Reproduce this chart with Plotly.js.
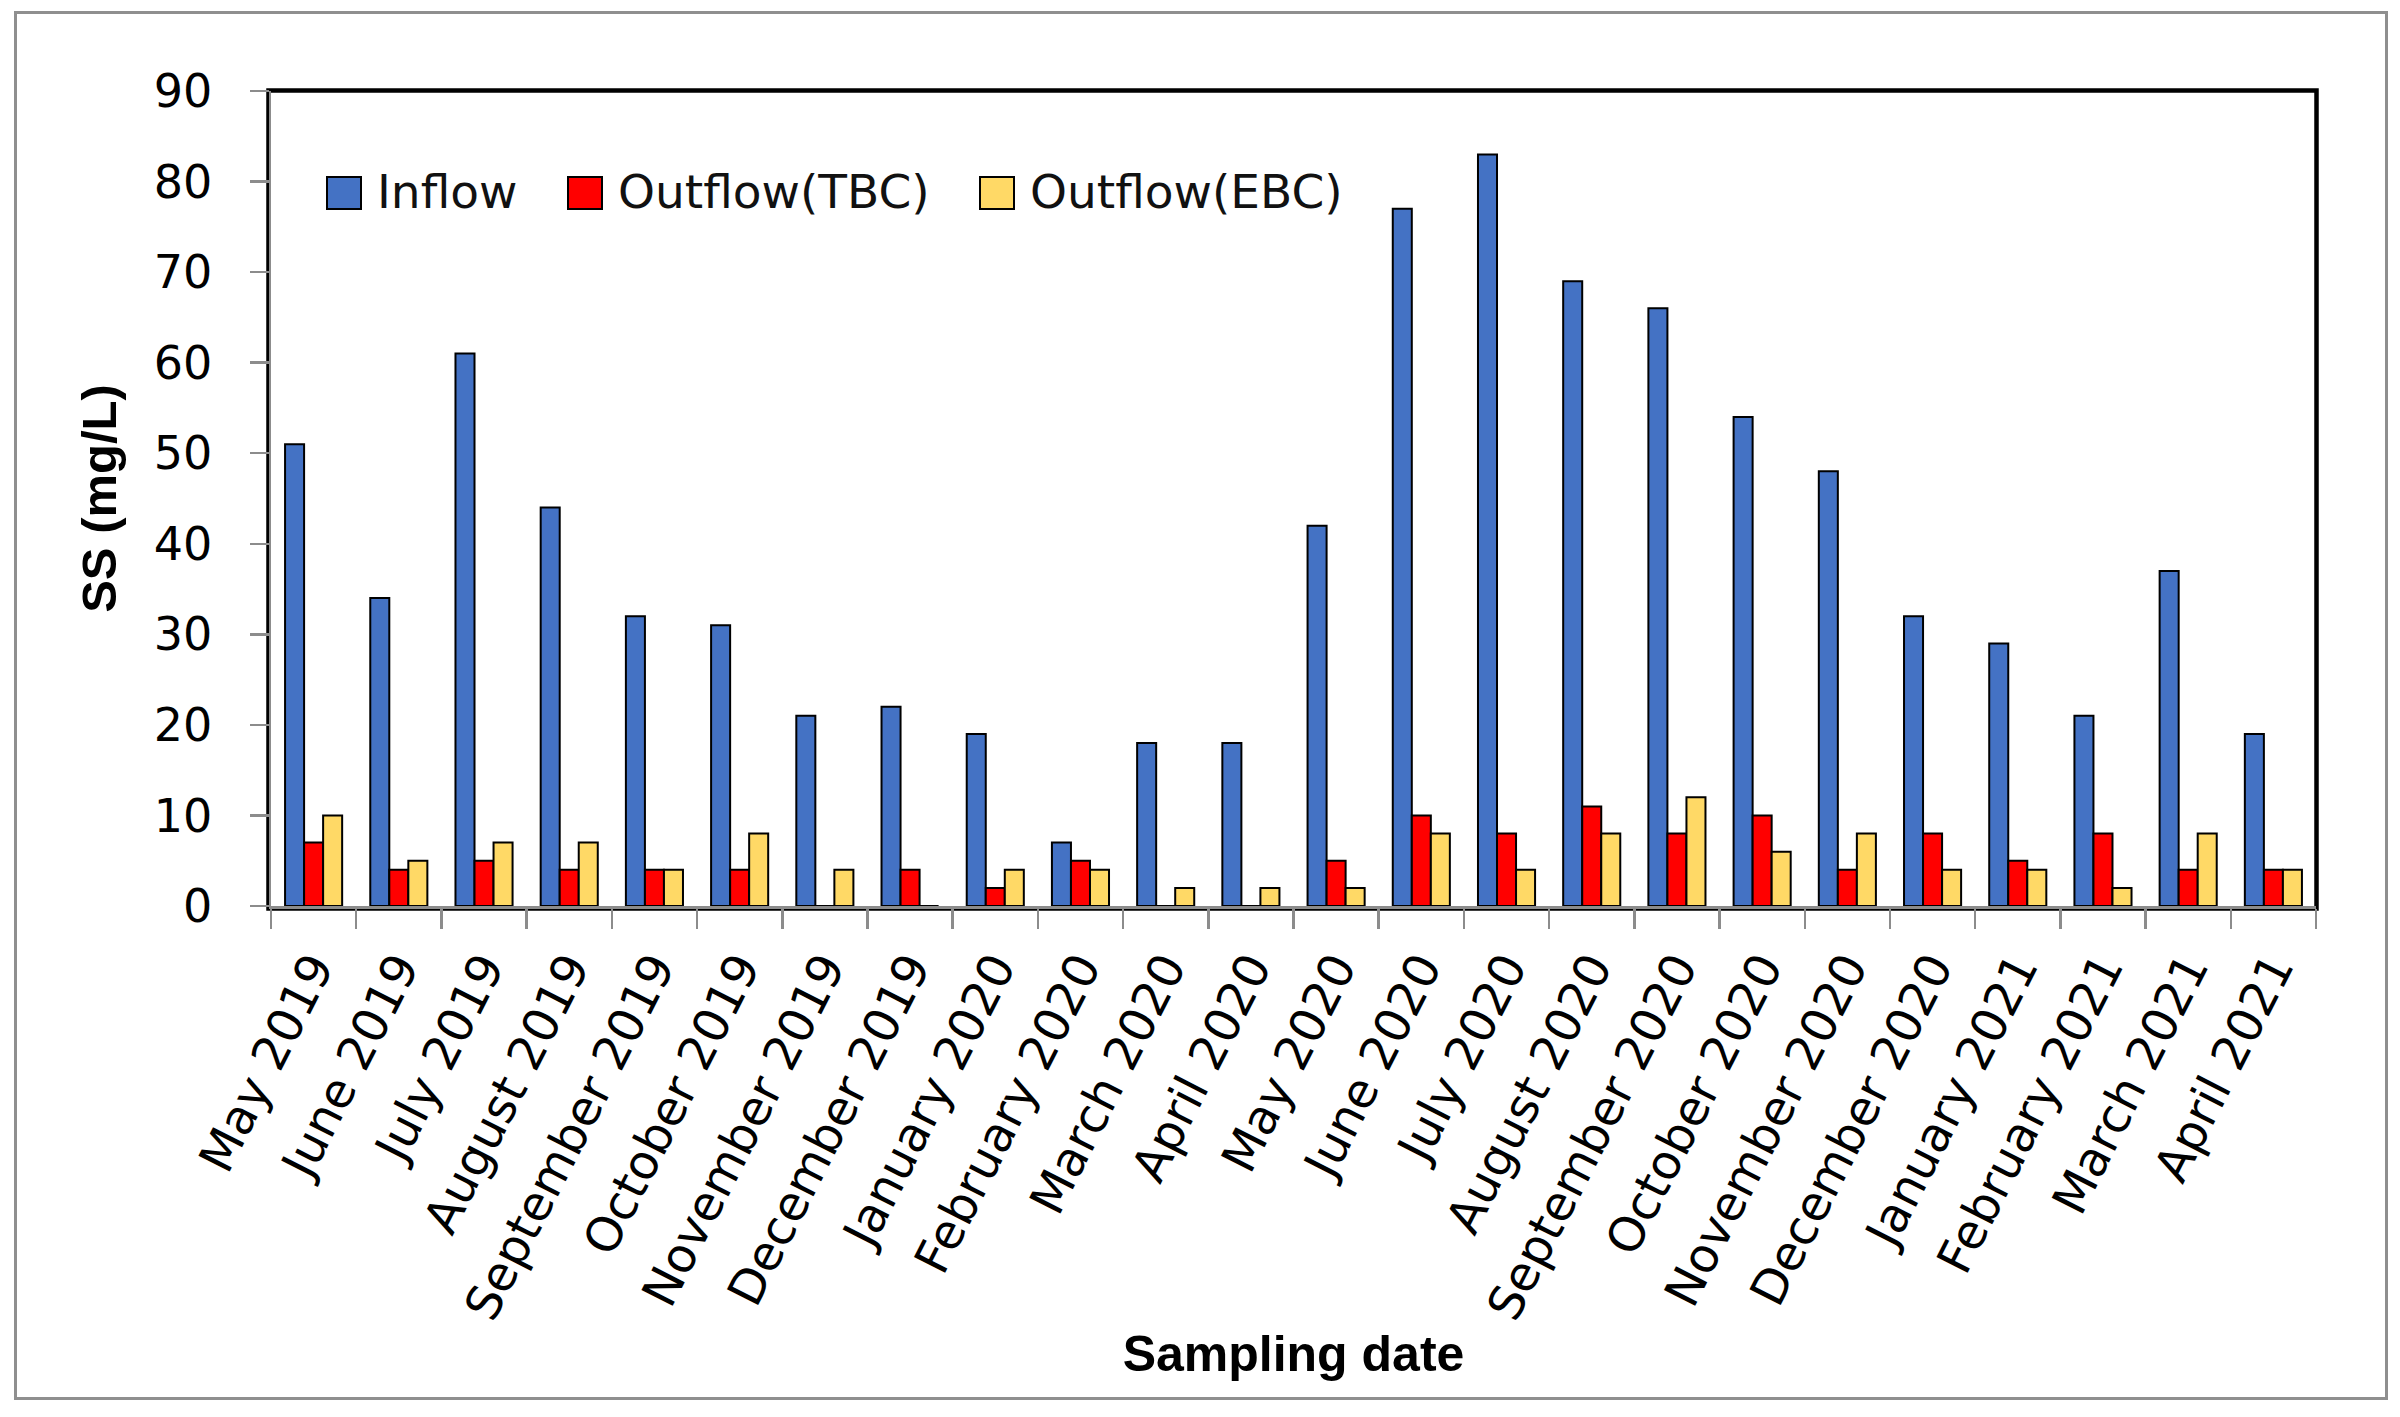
<!DOCTYPE html>
<html><head><meta charset="utf-8">
<script src="https://cdn.plot.ly/plotly-3.0.1.min.js"></script>
<style>
html,body{margin:0;padding:0;background:#fff;}
#chart{position:absolute;left:0;top:0;width:2400px;height:1417px;}
#frame{position:absolute;left:14px;top:11px;width:2368px;height:1383px;border:3px solid #8f8f8f;pointer-events:none;}
</style>
</head><body>
<div id="chart"></div><div id="frame"></div>
<script>
// ---- data ----
const months = ["May 2019","June 2019","July 2019","August 2019","September 2019","October 2019",
  "November 2019","December 2019","January 2020","February 2020","March 2020","April 2020",
  "May 2020","June 2020","July 2020","August 2020","September 2020","October 2020",
  "November 2020","December 2020","January 2021","February 2021","March 2021","April 2021"];
const inflow = [51,34,61,44,32,31,21,22,19,7,18,18,42,77,83,69,66,54,48,32,29,21,37,19];
const outflowTBC = [7,4,5,4,4,4,0,4,2,5,0,0,5,10,8,11,8,10,4,8,5,8,4,4];
const outflowEBC = [10,5,7,7,4,8,4,0,4,4,2,2,2,8,4,8,12,6,8,4,4,2,8,4];
const seriesNames = ["Inflow","Outflow(TBC)","Outflow(EBC)"];
const seriesColors = ["#4472C4","#FF0000","#FFD966"];
const yTitle = "SS (mg/L)";
const xTitle = "Sampling date";

// ---- layout geometry (px) ----
const W = 2400, H = 1417;
const L = 271, R = 2316, T = 91, B = 906;
const px = x => (x - L) / (R - L);
const py = y => (B - y) / (B - T);

const seriesData = [inflow, outflowTBC, outflowEBC];
const traces = seriesData.map((vals, i) => ({
  type: "bar",
  x: months,
  y: vals,
  name: seriesNames[i],
  marker: {color: seriesColors[i], line: {color: "#000", width: 2}},
  showlegend: false,
  hoverinfo: "x+y+name"
}));

const shapes = [{
  type: "rect", xref: "paper", yref: "paper", layer: "below",
  x0: px(268.5), x1: px(2316.5), y0: py(908.5), y1: py(90.5),
  line: {color: "#000", width: 4.5}, fillcolor: "rgba(0,0,0,0)"
}];
const annotations = [];
const legSq = [327, 568, 980];
const legTx = [375, 616, 1028];
seriesNames.forEach((n, i) => {
  shapes.push({
    type: "rect", xref: "paper", yref: "paper",
    x0: px(legSq[i]), x1: px(legSq[i] + 34), y0: py(209), y1: py(177),
    fillcolor: seriesColors[i], line: {color: "#000", width: 2}
  });
  annotations.push({
    xref: "paper", yref: "paper", x: px(legTx[i]), y: py(192),
    xanchor: "left", yanchor: "middle", showarrow: false,
    text: n, font: {family: "DejaVu Sans", size: 47, color: "#111"}
  });
});

const layout = {
  width: W, height: H,
  margin: {l: L, r: W - R, t: T, b: H - B},
  paper_bgcolor: "#fff", plot_bgcolor: "#fff",
  barmode: "group", bargap: 0.33, bargroupgap: 0,
  font: {family: "DejaVu Sans", color: "#000"},
  xaxis: {
    type: "category",
    tickangle: -63,
    tickson: "boundaries",
    ticks: "outside", ticklen: 20, tickwidth: 2.5, tickcolor: "#8c8c8c",
    showline: true, linecolor: "#8c8c8c", linewidth: 2.5,
    showgrid: false, zeroline: false,
    tickfont: {family: "DejaVu Sans", size: 48, color: "#000"},
    ticklabelstandoff: 12,
    title: {text: xTitle, standoff: 8, font: {family: "Liberation Sans", size: 50, color: "#000", weight: "bold"}}
  },
  yaxis: {
    range: [0, 90], dtick: 10, tick0: 0,
    ticks: "outside", ticklen: 19, tickwidth: 2.5, tickcolor: "#8c8c8c",
    showline: true, linecolor: "#8c8c8c", linewidth: 2.5,
    showgrid: false, zeroline: false,
    tickfont: {family: "DejaVu Sans", size: 46, color: "#000"},
    ticklabelstandoff: 28,
    title: {text: yTitle, standoff: 22, font: {family: "Liberation Sans", size: 49, color: "#000", weight: "bold"}}
  },
  shapes: shapes,
  annotations: annotations,
  showlegend: false
};

Plotly.newPlot("chart", traces, layout, {displayModeBar: false, staticPlot: true});
</script>
</body></html>
